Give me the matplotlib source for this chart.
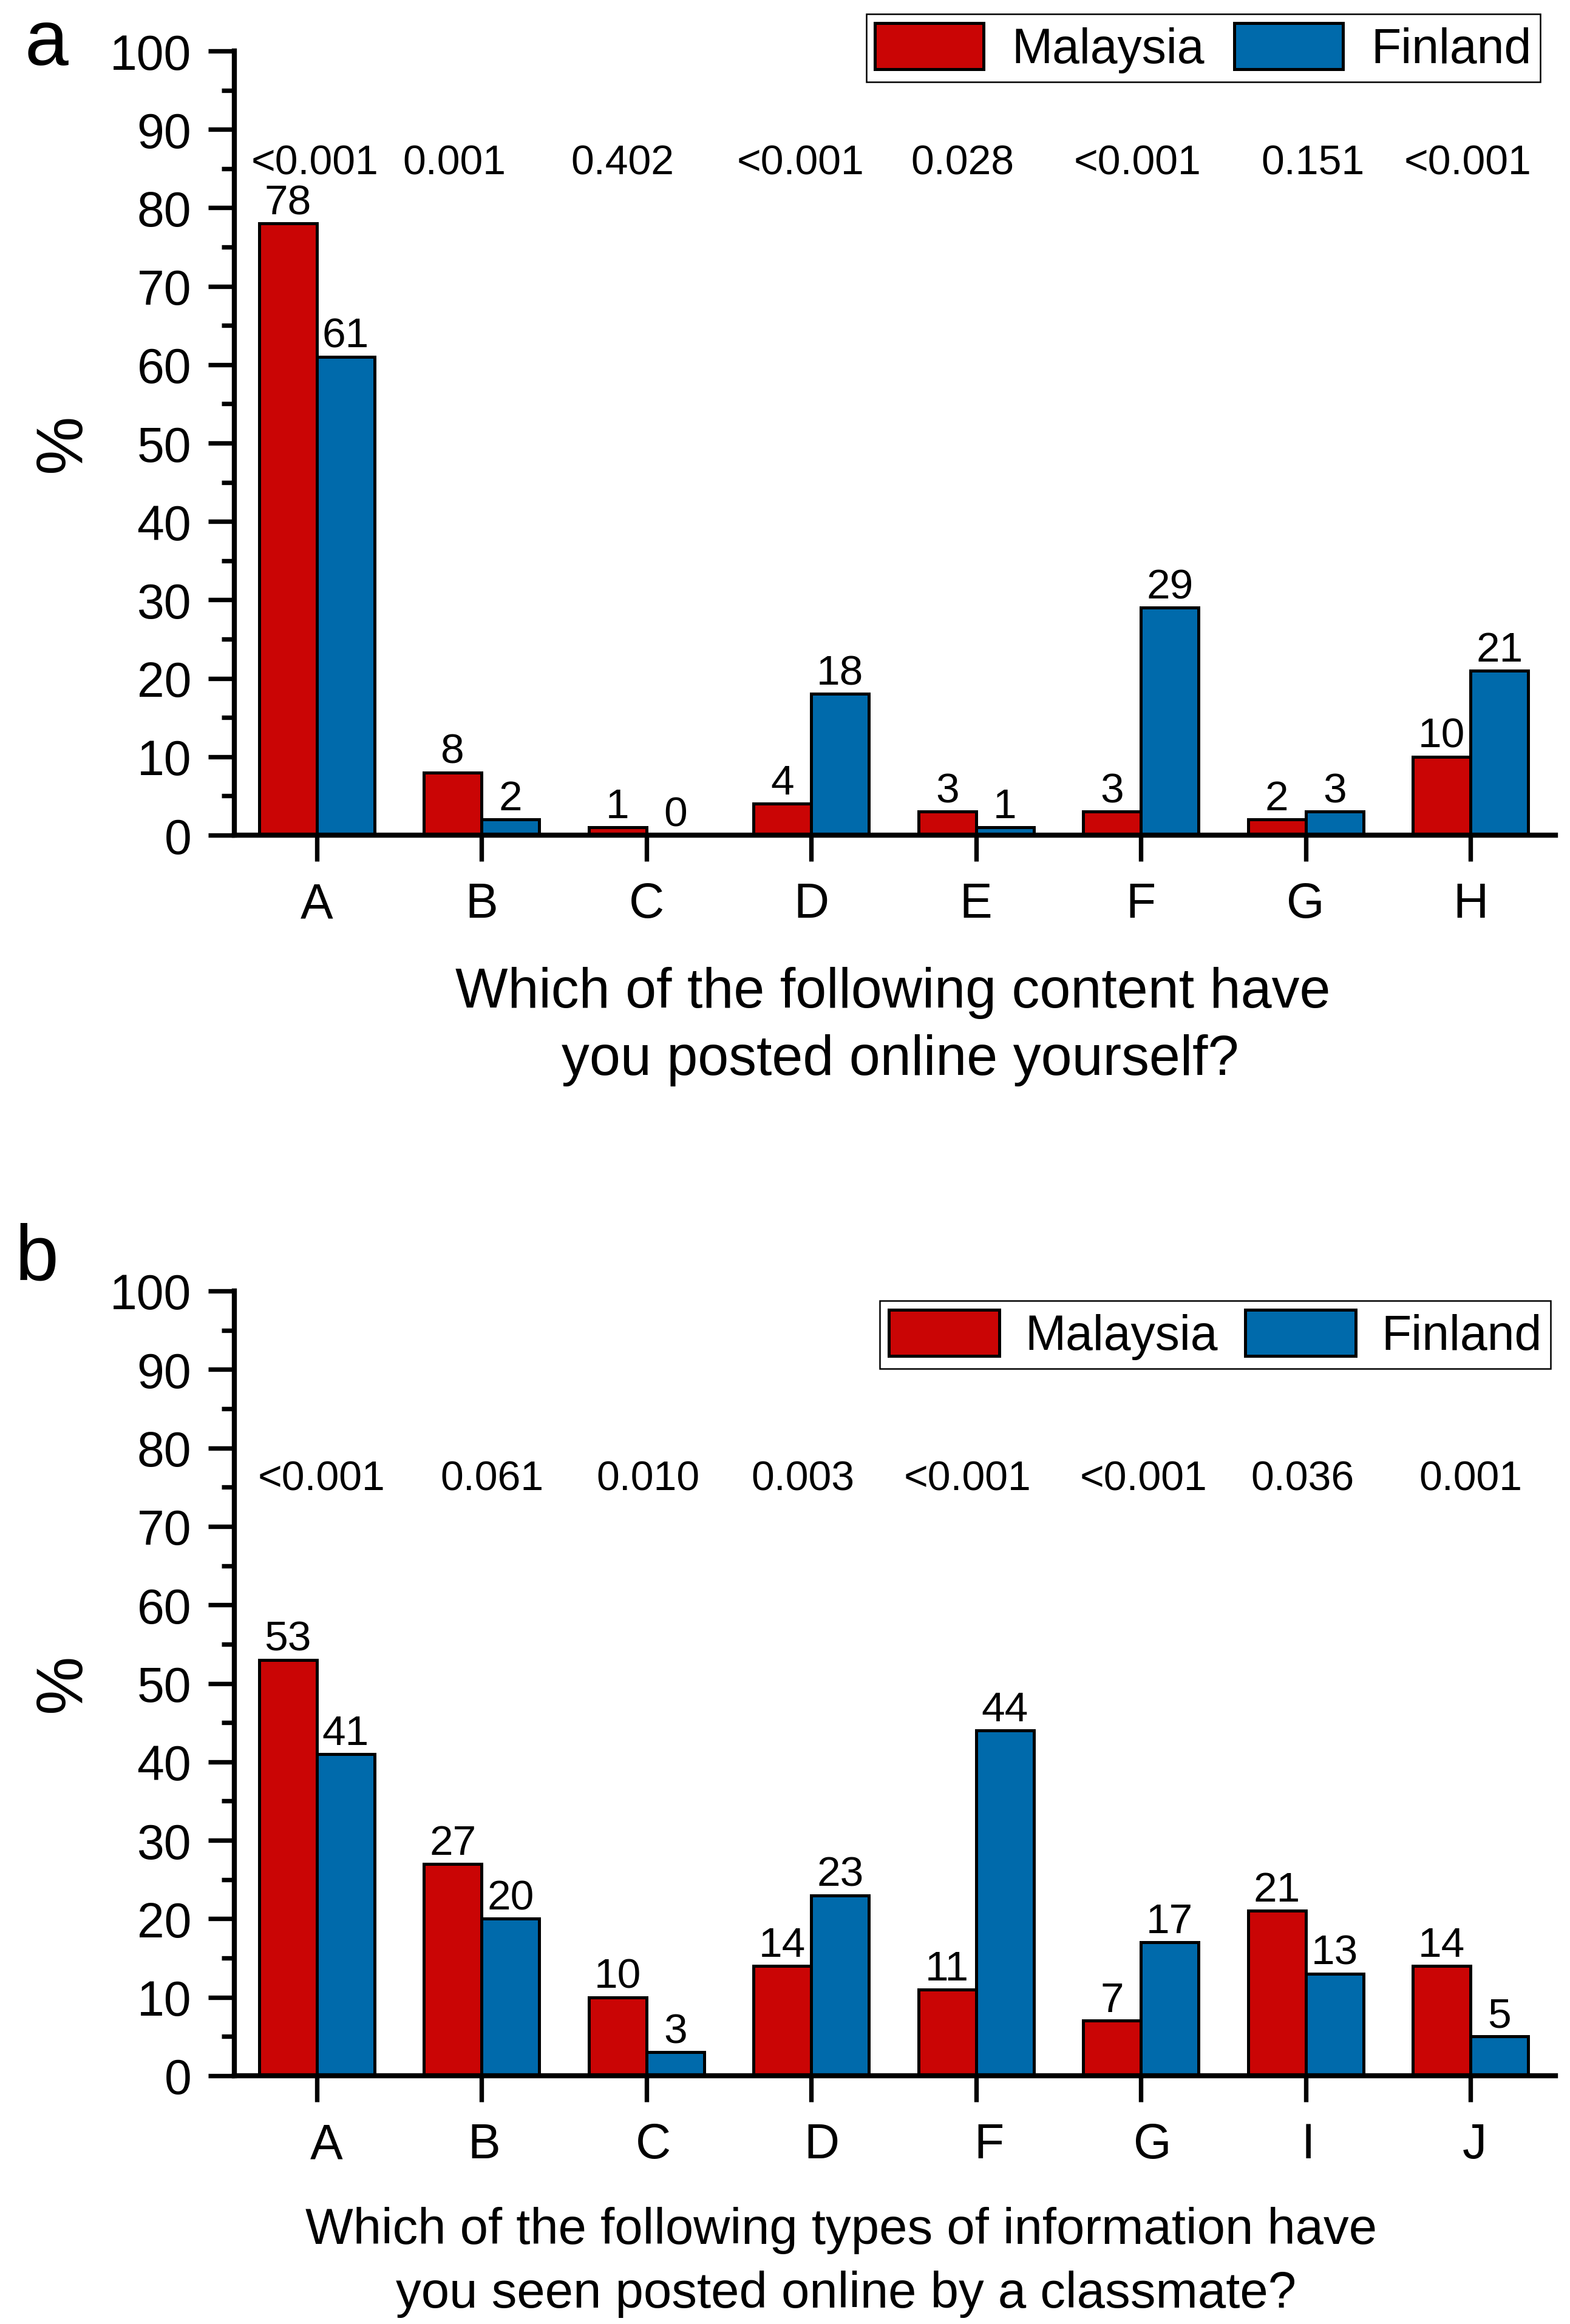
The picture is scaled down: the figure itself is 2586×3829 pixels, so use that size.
import matplotlib
matplotlib.use('Agg')
import matplotlib.pyplot as plt
from matplotlib.ticker import MultipleLocator
from matplotlib.transforms import ScaledTranslation
import numpy as np

plt.rcParams['font.family'] = ['Liberation Sans', 'DejaVu Sans']

# ---------------- data ----------------
countries = ['Malaysia', 'Finland']

cats_a = ['A', 'B', 'C', 'D', 'E', 'F', 'G', 'H']
malaysia_a = [78, 8, 1, 4, 3, 3, 2, 10]
finland_a = [61, 2, 0, 18, 1, 29, 3, 21]
pvals_a = ['<0.001', '0.001', '0.402', '<0.001', '0.028', '<0.001', '0.151', '<0.001']
title_a = ['Which of the following content have', 'you posted online yourself?']

cats_b = ['A', 'B', 'C', 'D', 'F', 'G', 'I', 'J']
malaysia_b = [53, 27, 10, 14, 11, 7, 21, 14]
finland_b = [41, 20, 3, 23, 44, 17, 13, 5]
pvals_b = ['<0.001', '0.061', '0.010', '0.003', '<0.001', '<0.001', '0.036', '0.001']
title_b = ['Which of the following types of information have',
           'you seen posted online by a classmate?']

yticks = list(range(0, 101, 10))

# ---------------- layout / style ----------------
RED = '#CA0505'
BLUE = '#006AAB'
W, H = 2586, 3830
# small horizontal shifts (pixels) of the p-value texts and tick labels
pshift_a = [-3, -45, -39, -18, -22, -6, 12, -5]
pshift_b = [8, 17, 3, -14, -14, 4, -5, 0]
tshift_a = [0, 0, 0, 0, 0, 0, 0, 0]
tshift_b = [16, 4, 11, 17, 21, 19, 4, 7]

fig = plt.figure(figsize=(W / 100, H / 100), dpi=100)


def fx(x):
    return x / W


def fy(y):
    return 1 - y / H


def panel(top_px, bot_px, cats, mal, fin, pvals, p_y, pshift, tshift,
          title_lines, title_pos, title_fs, letter, letter_pos, ylab_y,
          legend_anchor, textpad, colspace, hlen):
    left_px, right_px = 386, 2562
    ax = fig.add_axes([fx(left_px), fy(bot_px), (right_px - left_px) / W,
                       (bot_px - top_px) / H])
    x = np.arange(len(cats))
    bw = 0.35
    ax.bar(x - bw / 2, mal, bw, color=RED, edgecolor='black',
           linewidth=3.6, label=countries[0], zorder=2)
    ax.bar(x + bw / 2, fin, bw, color=BLUE, edgecolor='black',
           linewidth=3.6, label=countries[1], zorder=2)
    for xs, vals in ((x - bw / 2, mal), (x + bw / 2, fin)):
        for xi, v in zip(xs, vals):
            ax.annotate(str(v), (xi, v), xytext=(0, 11.5),
                        textcoords='offset points', ha='center',
                        va='baseline', fontsize=50)
    for xi, p, dx in zip(x, pvals, pshift):
        ax.annotate(p, (xi, p_y), xytext=(dx * 0.72, 0),
                    textcoords='offset points', ha='center', va='baseline',
                    fontsize=49)

    ax.set_xlim(-0.5, 7.515)
    ax.set_ylim(0, 100)
    ax.set_yticks(yticks)
    ax.set_yticklabels([str(t) for t in yticks])
    ax.yaxis.set_minor_locator(MultipleLocator(5))
    ax.set_xticks(x)
    ax.set_xticklabels(cats)
    ax.tick_params(axis='both', which='major', direction='out', length=31,
                   width=5.3, labelsize=58)
    ax.tick_params(axis='y', which='major', pad=20)
    ax.tick_params(axis='x', which='major', pad=24)
    ax.tick_params(axis='y', which='minor', direction='out', length=15,
                   width=5.3)
    for lab, dx in zip(ax.get_xticklabels(), tshift):
        lab.set_transform(lab.get_transform() +
                          ScaledTranslation(dx / 100, 0, fig.dpi_scale_trans))
    for s in ('top', 'right'):
        ax.spines[s].set_visible(False)
    for s in ('left', 'bottom'):
        ax.spines[s].set_linewidth(6)

    leg = ax.legend(loc='upper right',
                    bbox_to_anchor=(fx(legend_anchor[0]), fy(legend_anchor[1])),
                    bbox_transform=fig.transFigure, ncol=2, fontsize=58,
                    frameon=True, fancybox=False, edgecolor='black',
                    framealpha=1, borderpad=0.18, handlelength=hlen,
                    handleheight=1.09, handletextpad=textpad,
                    columnspacing=colspace, borderaxespad=0)
    leg.get_frame().set_linewidth(1.8)

    for line, (cx, by) in zip(title_lines, title_pos):
        fig.text(fx(cx), fy(by), line, ha='center', va='baseline',
                 fontsize=title_fs)
    fig.text(fx(letter_pos[0]), fy(letter_pos[1]), letter, ha='left',
             va='baseline', fontsize=93)
    fig.text(fx(104), fy(ylab_y), '%', rotation=90, ha='center',
             va='center', fontsize=78)
    return ax


panel(85, 1377, cats_a, malaysia_a, finland_a, pvals_a, 84.3, pshift_a,
      tshift_a, title_a, [(1471, 1660), (1483, 1771)], 66, 'a', (40, 107),
      731, (2537, 24), 0.58, 0.6, 2.22)
panel(2128, 3421, cats_b, malaysia_b, finland_b, pvals_b, 74.7, pshift_b,
      tshift_b, title_b, [(1386, 3697), (1394, 3802)], 60, 'b', (25, 2109),
      2774, (2554, 2144), 0.53, 0.55, 2.26)

fig.savefig('out.png', dpi=100)
